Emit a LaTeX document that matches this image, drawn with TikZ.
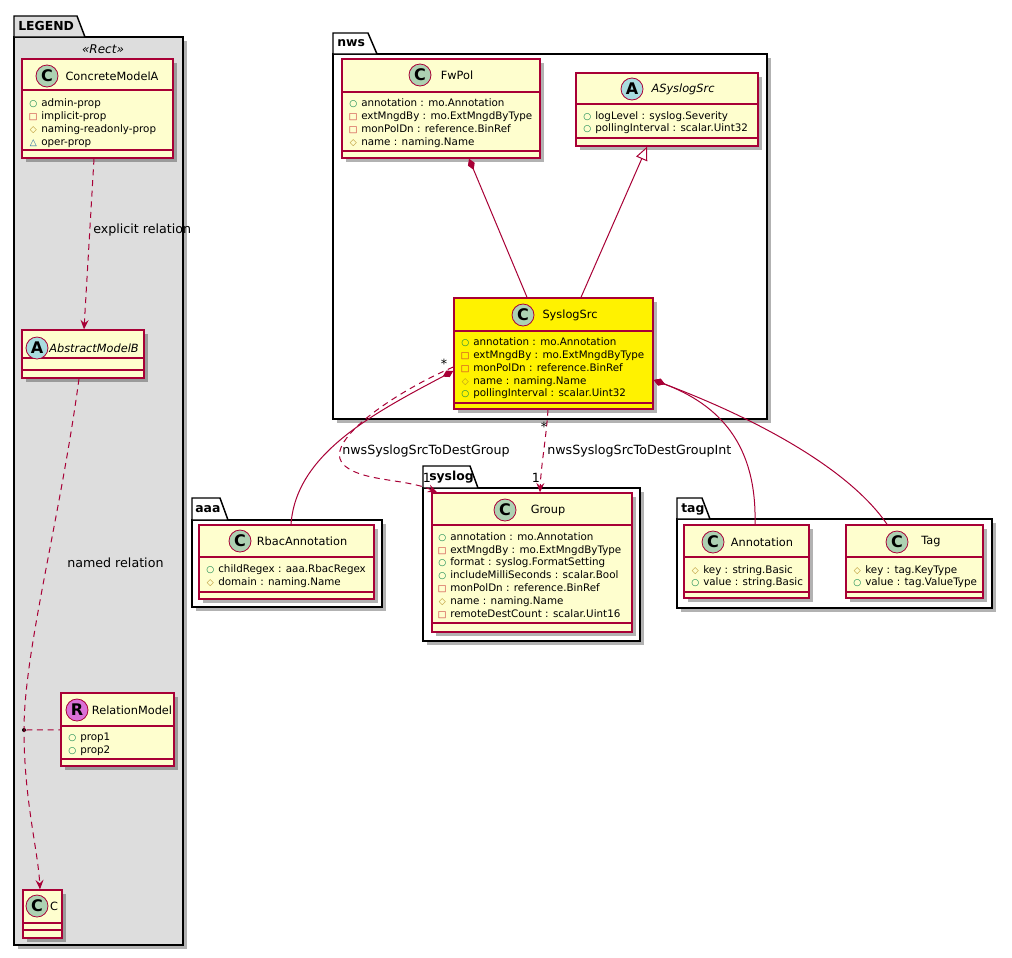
\documentclass[tikz,border=0pt]{standalone}
\usepackage{fontspec}
\setmainfont{DejaVu Sans}
\usetikzlibrary{arrows.meta,fit,shadows}

\definecolor{umlred}{HTML}{A80036}
\definecolor{umlfill}{HTML}{FEFECE}
\definecolor{circC}{HTML}{ADD1B2}
\definecolor{circA}{HTML}{A9DCDF}
\definecolor{circR}{HTML}{DA70D6}
\definecolor{legendgray}{HTML}{DDDDDD}
\definecolor{visPub}{HTML}{038048}
\definecolor{visPriv}{HTML}{C82930}
\definecolor{visProt}{HTML}{B38D22}
\definecolor{visPkg}{HTML}{1963A0}

\newcommand{\vicon}[2]{\makebox[12pt][c]{\textcolor{#1}{\fontsize{6.8}{6.8}\selectfont #2}}}
\newcommand{\vpub}{\vicon{visPub}{○}}
\newcommand{\vpriv}{\vicon{visPriv}{□}}
\newcommand{\vprot}{\vicon{visProt}{◇}}
\newcommand{\vpkg}{\vicon{visPkg}{△}}

\tikzset{
  umlshadow/.style={drop shadow={shadow xshift=3pt, shadow yshift=-3pt, opacity=0.3, fill=black}},
  pkgline/.style={draw=black, line width=1.1pt},
  pkgbody/.style={pkgline, fill=white, inner sep=0pt, umlshadow},
  pkgname/.style={anchor=west, inner sep=0pt, font=\bfseries\fontsize{9.3}{11}\selectfont},
  clsbox/.style={draw=umlred, line width=1.1pt, fill=umlfill, inner sep=0pt, umlshadow},
  clssep/.style={draw=umlred, line width=1.1pt},
  letter/.style={circle, draw=umlred, line width=0.6pt, minimum size=16.5pt, inner sep=0pt, font=\bfseries\fontsize{12}{12}\selectfont},
  clsname/.style={inner sep=0pt, font=\fontsize{8.5}{10}\selectfont},
  attr/.style={anchor=base west, inner sep=0pt, font=\fontsize{7.75}{10}\selectfont},
  edgelabel/.style={inner sep=0pt, font=\fontsize{9.5}{11}\selectfont},
  conn/.style={draw=umlred, line width=0.75pt},
  comp/.style={conn, {Diamond[length=9pt, width=5.5pt]}-},
  inherit/.style={conn, -{Triangle[length=10pt, width=9pt, fill=white]}},
  depline/.style={conn, dash pattern=on 4.5pt off 3.5pt},
  dep/.style={depline, -{Stealth[length=7pt, width=6pt, inset=2.5pt]}},
  dotnode/.style={circle, fill=black, inner sep=0pt, minimum size=3pt}
}

\begin{document}
\begin{tikzpicture}[x=0.75pt,y=0.75pt,yscale=-1,xscale=1]
    \useasboundingbox (0,0) rectangle (1012,957);

    % Packages
    \node[pkgbody, fill=legendgray, fit={(14,37) (183,945)}] (legendPkg) {};
    \draw[pkgline, fill=legendgray] (14,37) |- (77,16) -- (85,37) -- cycle;
    \node[pkgname] (legendName) at (18,26) {LEGEND};

    \node[pkgbody, fit={(333,54) (767,419)}] (nwsPkg) {};
    \draw[pkgline, fill=white] (333,54) |- (368,33) -- (377,54) -- cycle;
    \node[pkgname] (nwsName) at (337,43) {nws};

    \node[pkgbody, fit={(423,488) (640,641)}] (syslogPkg) {};
    \draw[pkgline, fill=white] (423,488) |- (470,466) -- (478,488) -- cycle;
    \node[pkgname] (syslogName) at (429,477) {syslog};

    \node[pkgbody, fit={(192,520) (382,607)}] (aaaPkg) {};
    \draw[pkgline, fill=white] (192,520) |- (220,498) -- (228,520) -- cycle;
    \node[pkgname] (aaaName) at (195,509) {aaa};

    \node[pkgbody, fit={(677,519) (992,608)}] (tagPkg) {};
    \draw[pkgline, fill=white] (677,519) |- (702,498) -- (710,519) -- cycle;
    \node[pkgname] (tagName) at (681,509) {tag};

    \node[inner sep=0pt, font=\itshape\fontsize{9}{11}\selectfont] (legendStereo) at (103,49) {«Rect»};

    % ConcreteModelA
    \node[clsbox, fit={(22,59) (173,158)}] (concreteA) {};
    \draw[clssep] (concreteA.west |- 0,90) -- (concreteA.east |- 0,90) (concreteA.west |- 0,150) -- (concreteA.east |- 0,150);
    \node[letter, fill=circC] (concreteAIcon) at (47,76) {C};
    \node[clsname] (concreteAName) at (112,76) {ConcreteModelA};
    \foreach \v/\t [count=\i] in {\vpub/admin-prop, \vpriv/implicit-prop, \vprot/naming-readonly-prop, \vpkg/oper-prop}
        \node[attr] (concreteAAttr\i) at (25,{93+13*\i}) {\v\t};

    % AbstractModelB
    \node[clsbox, fit={(22,330) (144,378)}] (abstractB) {};
    \draw[clssep] (abstractB.west |- 0,358) -- (abstractB.east |- 0,358) (abstractB.west |- 0,370) -- (abstractB.east |- 0,370);
    \node[letter, fill=circA] (abstractBIcon) at (37,348) {A};
    \node[clsname, font=\itshape\fontsize{8.5}{10}\selectfont] (abstractBName) at (94,348) {AbstractModelB};

    % RelationModel
    \node[clsbox, fit={(61,693) (174,766)}] (relModel) {};
    \draw[clssep] (relModel.west |- 0,726) -- (relModel.east |- 0,726) (relModel.west |- 0,759) -- (relModel.east |- 0,759);
    \node[letter, fill=circR] (relModelIcon) at (77,710) {R};
    \node[clsname] (relModelName) at (132,710) {RelationModel};
    \foreach \v/\t [count=\i] in {\vpub/prop1, \vpub/prop2}
        \node[attr] (relModelAttr\i) at (64,{727+13*\i}) {\v\t};

    % C
    \node[clsbox, fit={(23,890) (62,938)}] (classC) {};
    \draw[clssep] (classC.west |- 0,923) -- (classC.east |- 0,923) (classC.west |- 0,930) -- (classC.east |- 0,930);
    \node[letter, fill=circC] (classCIcon) at (37,906) {C};
    \node[clsname] (classCName) at (54,906) {C};

    % FwPol
    \node[clsbox, fit={(342,59) (540,158)}] (fwpol) {};
    \draw[clssep] (fwpol.west |- 0,92) -- (fwpol.east |- 0,92) (fwpol.west |- 0,151) -- (fwpol.east |- 0,151);
    \node[letter, fill=circC] (fwpolIcon) at (420,75) {C};
    \node[clsname] (fwpolName) at (457,75) {FwPol};
    \foreach \v/\t [count=\i] in {\vpub/annotation : mo.Annotation, \vpriv/extMngdBy : mo.ExtMngdByType, \vpriv/monPolDn : reference.BinRef, \vprot/name : naming.Name}
        \node[attr] (fwpolAttr\i) at (345,{93+13*\i}) {\v\t};

    % ASyslogSrc
    \node[clsbox, fit={(576,73) (758,146)}] (asyslog) {};
    \draw[clssep] (asyslog.west |- 0,104) -- (asyslog.east |- 0,104) (asyslog.west |- 0,138) -- (asyslog.east |- 0,138);
    \node[letter, fill=circA] (asyslogIcon) at (632,89) {A};
    \node[clsname, font=\itshape\fontsize{8.5}{10}\selectfont] (asyslogName) at (683,89) {ASyslogSrc};
    \foreach \v/\t [count=\i] in {\vpub/logLevel : syslog.Severity, \vpub/pollingInterval : scalar.Uint32}
        \node[attr] (asyslogAttr\i) at (579,{107+12*\i}) {\v\t};

    % SyslogSrc
    \node[clsbox, fill=yellow, fit={(454,298) (653,409)}] (syslogsrc) {};
    \draw[clssep] (syslogsrc.west |- 0,331) -- (syslogsrc.east |- 0,331) (syslogsrc.west |- 0,403) -- (syslogsrc.east |- 0,403);
    \node[letter, fill=circC] (syslogsrcIcon) at (523,315) {C};
    \node[clsname] (syslogsrcName) at (570,315) {SyslogSrc};
    \foreach \v/\t [count=\i] in {\vpub/annotation : mo.Annotation, \vpriv/extMngdBy : mo.ExtMngdByType, \vpriv/monPolDn : reference.BinRef, \vprot/name : naming.Name, \vpub/pollingInterval : scalar.Uint32}
        \node[attr] (syslogsrcAttr\i) at (457,{333+12.75*\i}) {\v\t};

    % Group
    \node[clsbox, fit={(432,493) (632,632)}] (group) {};
    \draw[clssep] (group.west |- 0,525) -- (group.east |- 0,525) (group.west |- 0,623) -- (group.east |- 0,623);
    \node[letter, fill=circC] (groupIcon) at (505,510) {C};
    \node[clsname] (groupName) at (548,510) {Group};
    \foreach \v/\t [count=\i] in {\vpub/annotation : mo.Annotation, \vpriv/extMngdBy : mo.ExtMngdByType, \vpub/format : syslog.FormatSetting, \vpub/includeMilliSeconds : scalar.Bool, \vpriv/monPolDn : reference.BinRef, \vprot/name : naming.Name, \vpriv/remoteDestCount : scalar.Uint16}
        \node[attr] (groupAttr\i) at (434,{527.5+12.8*\i}) {\v\t};

    % RbacAnnotation
    \node[clsbox, fit={(199,525) (374,599)}] (rbac) {};
    \draw[clssep] (rbac.west |- 0,557) -- (rbac.east |- 0,557) (rbac.west |- 0,592) -- (rbac.east |- 0,592);
    \node[letter, fill=circC] (rbacIcon) at (240,541) {C};
    \node[clsname] (rbacName) at (302,541) {RbacAnnotation};
    \foreach \v/\t [count=\i] in {\vpub/childRegex : aaa.RbacRegex, \vprot/domain : naming.Name}
        \node[attr] (rbacAttr\i) at (202,{559+13*\i}) {\v\t};

    % Annotation
    \node[clsbox, fit={(684,525) (809,598)}] (annotation) {};
    \draw[clssep] (annotation.west |- 0,557) -- (annotation.east |- 0,557) (annotation.west |- 0,592) -- (annotation.east |- 0,592);
    \node[letter, fill=circC] (annotationIcon) at (713,542) {C};
    \node[clsname] (annotationName) at (762,542) {Annotation};
    \foreach \v/\t [count=\i] in {\vprot/key : string.Basic, \vpub/value : string.Basic}
        \node[attr] (annotationAttr\i) at (687,{561+12*\i}) {\v\t};

    % Tag
    \node[clsbox, fit={(846,525) (983,598)}] (tagcls) {};
    \draw[clssep] (tagcls.west |- 0,557) -- (tagcls.east |- 0,557) (tagcls.west |- 0,592) -- (tagcls.east |- 0,592);
    \node[letter, fill=circC] (tagclsIcon) at (897,542) {C};
    \node[clsname] (tagclsName) at (931,542) {Tag};
    \foreach \v/\t [count=\i] in {\vprot/key : tag.KeyType, \vpub/value : tag.ValueType}
        \node[attr] (tagclsAttr\i) at (849,{561+12*\i}) {\v\t};

    % Legend relations
    \draw[dep] (94,0 |- concreteA.south) -- (84,0 |- abstractB.north);
    \node[edgelabel, anchor=west] (explicitLabel) at (93,230) {explicit relation};
    \node[dotnode] (relDot) at (24,730) {};
    \draw[dep] (79,0 |- abstractB.south) .. controls (60,520) and (24,650) .. (relDot.center) .. controls (24,800) and (38,850) .. (40,0 |- classC.north);
    \draw[depline] (relDot) -- (relModel);
    \node[edgelabel, anchor=west] (namedLabel) at (67,563) {named relation};

    % nws relations
    \draw[comp] (469,0 |- fwpol.south) -- (527,0 |- syslogsrc.north);
    \draw[inherit] (581,0 |- syslogsrc.north) -- (647,0 |- asyslog.south);
    \draw[comp] (syslogsrc.west |- 0,371) .. controls (370,415) and (296,455) .. (291,0 |- rbac.north);
    \draw[dep] (syslogsrc.west |- 0,367) .. controls (395,392) and (325,440) .. (342,463) .. controls (358,482) and (405,478) .. (437,0 |- group.north);
    \draw[dep] (548,0 |- syslogsrc.south) .. controls (546,440) and (541,465) .. (540,0 |- group.north);
    \draw[comp] (syslogsrc.east |- 0,380) .. controls (720,405) and (757,445) .. (755,0 |- annotation.north);
    \draw[comp] (syslogsrc.east |- 0,380) .. controls (760,420) and (850,470) .. (887,0 |- tagcls.north);

    \node[edgelabel] (starLeft) at (444,364) {*};
    \node[edgelabel] (starBottom) at (544,427) {*};
    \node[edgelabel] (oneLeft) at (427,478) {1};
    \node[edgelabel] (oneRight) at (536,478) {1};
    \node[edgelabel, anchor=west] (destGroupLabel) at (342,451) {nwsSyslogSrcToDestGroup};
    \node[edgelabel, anchor=west] (destGroupIntLabel) at (547,451) {nwsSyslogSrcToDestGroupInt};
\end{tikzpicture}
\end{document}
